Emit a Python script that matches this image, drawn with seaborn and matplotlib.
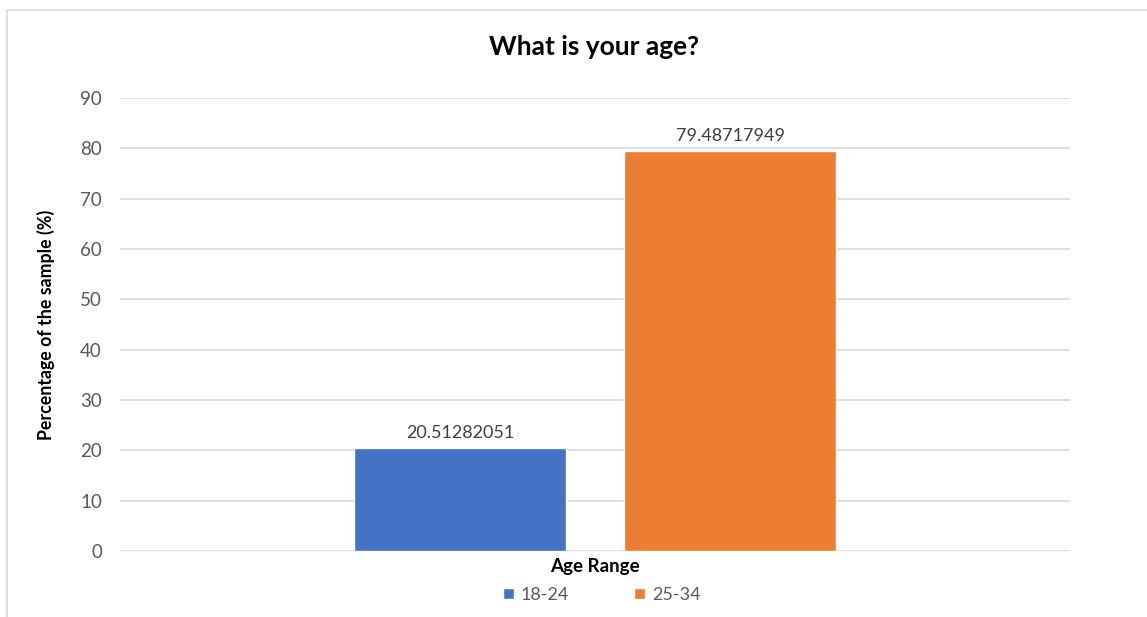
import matplotlib
matplotlib.use("Agg")
import matplotlib.pyplot as plt
from matplotlib.patches import Rectangle
import seaborn as sns
import pandas as pd

# Survey answers: share of respondents per age bracket
age_ranges = ["18-24", "25-34"]
percentages = [20.51282051, 79.48717949]
value_labels = ["20.51282051", "79.48717949"]
colors = ["#4472C4", "#ED7D31"]
y_ticks = [0, 10, 20, 30, 40, 50, 60, 70, 80, 90]

df = pd.DataFrame({"Age Range": ["Age Range"] * len(age_ranges),
                   "Group": age_ranges,
                   "Percent": percentages})

sns.set_theme(style="white")
plt.rcParams["font.family"] = ["Lato", "DejaVu Sans"]

fig = plt.figure(figsize=(11.47, 6.17), dpi=100)
ax = fig.add_axes([120 / 1147, 1 - 551 / 617, 950 / 1147, (551 - 98) / 617])

sns.barplot(data=df, x="Age Range", y="Percent", hue="Group",
            palette=colors, hue_order=age_ranges, width=0.8, gap=0.215,
            saturation=1, ax=ax, legend=False)

ax.set_xlim(-0.703, 0.703)
ax.set_ylim(0, 90)
ax.set_yticks(y_ticks)
ax.set_yticklabels([str(t) for t in y_ticks], color="#595959", fontsize=13.5)
ax.tick_params(axis="y", length=0, pad=13)
ax.set_xticks([])
ax.grid(axis="y", color="#D9D9D9", linewidth=1.2)
ax.set_axisbelow(True)
for s in ax.spines.values():
    s.set_visible(False)

for cont, lab in zip(ax.containers, value_labels):
    ax.bar_label(cont, labels=[lab], padding=5, fontsize=13, color="#404040")

ax.set_xlabel("Age Range", fontsize=13.5, fontweight="bold", color="#000000",
              labelpad=5)
ax.set_ylabel("Percentage of the sample (%)", fontsize=12.8, fontweight="bold",
              color="#000000", labelpad=18)

fig.text(594 / 1147, 1 - 47 / 617, "What is your age?", ha="center",
         va="center", fontsize=19, fontweight="bold", color="#000000")

# Legend beneath the axis title
handles = [Rectangle((0, 0), 1, 1, facecolor=c) for c in colors]
fig.legend(handles, age_ranges, loc="center", ncol=2,
           bbox_to_anchor=(602 / 1147, 1 - 595 / 617), frameon=False,
           fontsize=13, labelcolor="#595959", handlelength=0.6,
           handleheight=0.6, columnspacing=3.6, handletextpad=0.4)

# Chart frame
fig.patches.append(Rectangle((7 / 1147, -0.1), 1.2, 1.1 - 10 / 617,
                             transform=fig.transFigure, fill=False,
                             edgecolor="#D9D9D9", linewidth=1.2))

fig.savefig("out.png", dpi=100, facecolor="white")
